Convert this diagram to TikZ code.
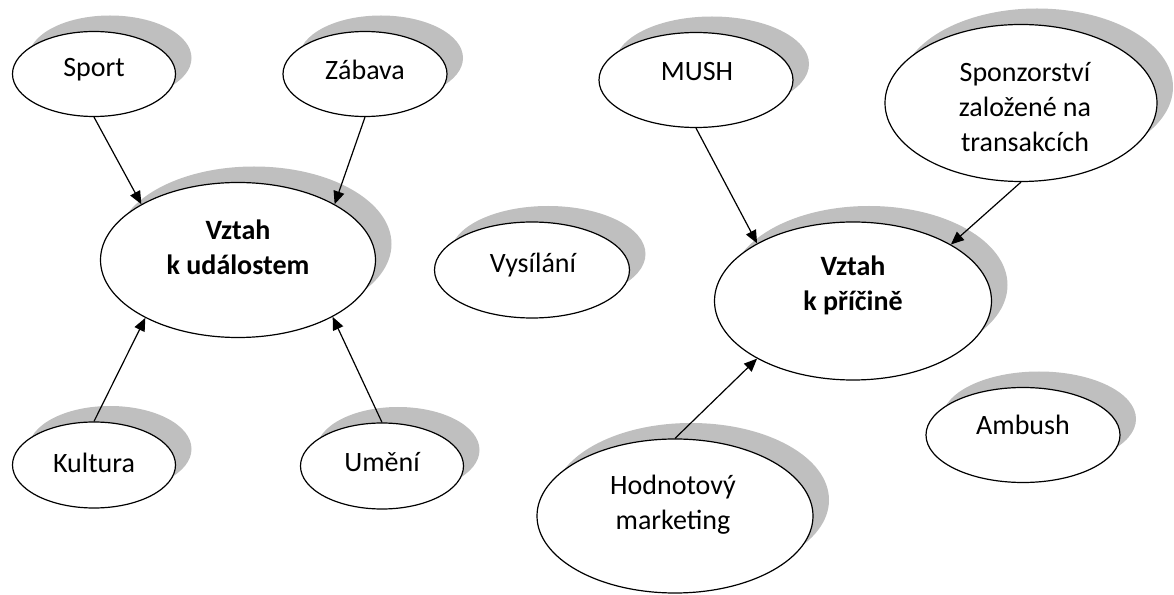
\documentclass[tikz,border=0pt]{standalone}
\usepackage{fontspec}
\setmainfont{Carlito}
\usetikzlibrary{arrows.meta,shadows,shapes.geometric}

\begin{document}
\begin{tikzpicture}[
    x=0.5pt, y=0.5pt,
    bubble/.style={draw, ellipse, fill=white, line width=0.6pt, inner sep=0pt,
      drop shadow={shadow xshift=8pt, shadow yshift=8pt, fill=black!25, opacity=1}},
    txt/.style={align=center, inner sep=0pt, font=\fontsize{14pt}{17.5pt}\selectfont},
    hub/.style={txt, font=\fontsize{14pt}{17.5pt}\selectfont\bfseries},
    link/.style={-{Triangle[length=6.5pt,width=5.5pt]}, line width=0.6pt}
  ]
    \useasboundingbox (0,0) rectangle (1174,595);

    \node[bubble, minimum width=81.5pt, minimum height=42.5pt] (sport) at (94,521) {};
    \node[bubble, minimum width=82pt, minimum height=42.5pt] (zabava) at (365,521) {};
    \node[bubble, minimum width=137.5pt, minimum height=77.5pt] (udalost) at (238,335) {};
    \node[bubble, minimum width=81.5pt, minimum height=43pt] (kultura) at (94,130) {};
    \node[bubble, minimum width=81.5pt, minimum height=43pt] (umeni) at (382,129) {};
    \node[bubble, minimum width=97.5pt, minimum height=48pt] (vysilani) at (532,325) {};
    \node[bubble, minimum width=97pt, minimum height=47.5pt] (mush) at (696,515) {};
    \node[bubble, minimum width=136pt, minimum height=78.5pt] (sponz) at (1021,492) {};
    \node[bubble, minimum width=138.5pt, minimum height=79pt] (pricina) at (853,294) {};
    \node[bubble, minimum width=138pt, minimum height=77pt] (hodnot) at (675,79) {};
    \node[bubble, minimum width=97pt, minimum height=47.5pt] (ambush) at (1023,160) {};

    \node[txt] (sport-t) at (94,525) {Sport};
    \node[txt] (zabava-t) at (365,525) {Zábava};
    \node[hub] (udalost-t) at (238,347.5) {Vztah\\k událostem};
    \node[txt] (kultura-t) at (94,132) {Kultura};
    \node[txt] (umeni-t) at (382,133) {Umění};
    \node[txt] (vysilani-t) at (533,330) {Vysílání};
    \node[txt] (mush-t) at (697,523) {MUSH};
    \node[txt] (sponz-t) at (1025,488) {Sponzorství\\založené na\\transakcích};
    \node[hub] (pricina-t) at (853,309.5) {Vztah\\k příčině};
    \node[txt] (hodnot-t) at (673,90.5) {Hodnotový\\marketing};
    \node[txt] (ambush-t) at (1023,170) {Ambush};

    \draw[link] (sport.south) -- (udalost.150);
    \draw[link] (zabava.south) -- (udalost.30);
    \draw[link] (kultura.north) -- (udalost.212);
    \draw[link] (umeni.north) -- (udalost.329);
    \draw[link] (mush.south) -- (pricina.149);
    \draw[link] (sponz.south) -- (pricina.30);
    \draw[link] (hodnot.north) -- (pricina.211);
  \end{tikzpicture}
\end{document}
